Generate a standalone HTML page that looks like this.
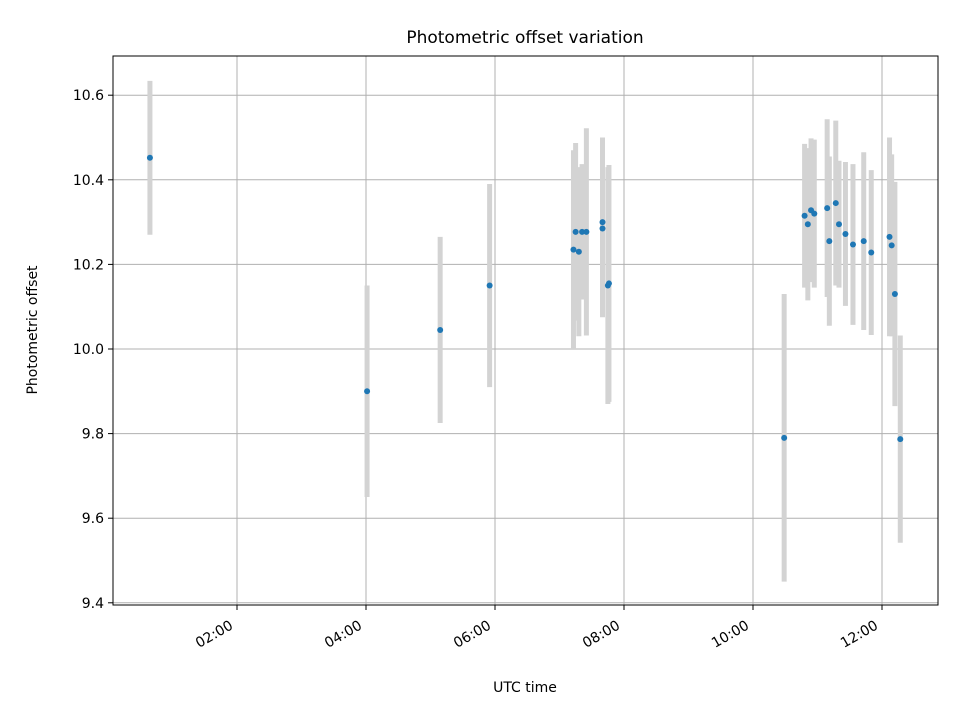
<!DOCTYPE html>
<html><head><meta charset="utf-8"><style>
body{margin:0;background:#fff}
svg text{font-family:"DejaVu Sans","Liberation Sans",sans-serif;fill:#000}
</style></head><body>
<svg id="chart" width="960" height="720" viewBox="0 0 960 720" xmlns="http://www.w3.org/2000/svg">
<rect width="960" height="720" fill="#fff"/>
<g id="grid"></g>
<g id="errs"></g>
<g id="pts"></g>
<rect x="113" y="56" width="825" height="549" fill="none" stroke="#000" stroke-width="1"/>
<g id="ticks"></g>
<text x="525" y="43" text-anchor="middle" font-size="17">Photometric offset variation</text>
<text x="525" y="692" text-anchor="middle" font-size="14">UTC time</text>
<text x="37" y="330" text-anchor="middle" font-size="14" transform="rotate(-90 37 330)">Photometric offset</text>
</svg>
<script>
const times=["00:39","04:01","05:09","05:55","07:13","07:15","07:18","07:21","07:25","07:40","07:40","07:45","07:46","10:29","10:48","10:51","10:54","10:57","11:09","11:11","11:17","11:20","11:26","11:33","11:43","11:50","12:07","12:09","12:12","12:17"];
const offsets=[10.452,9.90,10.045,10.15,10.235,10.277,10.23,10.277,10.277,10.30,10.285,10.15,10.155,9.79,10.315,10.295,10.328,10.32,10.333,10.255,10.345,10.295,10.272,10.247,10.255,10.228,10.265,10.245,10.13,9.787];
const errors=[0.182,0.25,0.22,0.24,0.235,0.21,0.20,0.16,0.245,0.20,0.21,0.28,0.28,0.34,0.17,0.18,0.17,0.175,0.21,0.20,0.195,0.15,0.17,0.19,0.21,0.195,0.235,0.215,0.265,0.245];
const yTicks=[9.4,9.6,9.8,10.0,10.2,10.4,10.6];
const xTicks=["02:00","04:00","06:00","08:00","10:00","12:00"];
const NS="http://www.w3.org/2000/svg";
function hrs(s){const p=s.split(":");return +p[0]+ +p[1]/60;}
function X(h){return 237+(h-2)*64.5;}
function Y(v){return 349-(v-10)*423;}
function mk(t,a,parent){const e=document.createElementNS(NS,t);for(const k in a)e.setAttribute(k,a[k]);parent.appendChild(e);return e;}
const grid=document.getElementById('grid'),ticks=document.getElementById('ticks'),errs=document.getElementById('errs'),pts=document.getElementById('pts');
yTicks.forEach(v=>{const y=Y(v);
 const g=mk('line',{x1:113,x2:938,y1:y,y2:y,stroke:'#b0b0b0','stroke-width':1},grid);
 
 
 const t=mk('line',{x1:108,x2:113,y1:y,y2:y,stroke:'#000'},ticks);
 
 
 const l=mk('text',{x:104,y:y+5,'text-anchor':'end','font-size':'14'},ticks);l.textContent=v.toFixed(1);
 
 
});
xTicks.forEach(s=>{const x=X(hrs(s));
 const g=mk('line',{x1:x,x2:x,y1:56,y2:605,stroke:'#b0b0b0','stroke-width':1},grid);
 
 
 const t=mk('line',{x1:x,x2:x,y1:605,y2:610,stroke:'#000'},ticks);
 
 
 const lx=x-3,ly=628;
 const l=mk('text',{x:lx,y:ly,'text-anchor':'end','font-size':'14',transform:`rotate(-30 ${lx} ${ly})`},ticks);l.textContent=s;
 
 
});
times.forEach((s,i)=>{const x=X(hrs(s));
 const e=mk('line',{x1:x,x2:x,y1:Y(offsets[i]+errors[i]),y2:Y(offsets[i]-errors[i]),stroke:'#d3d3d3','stroke-width':5},errs);
 
 
});
times.forEach((s,i)=>{
 const c=mk('circle',{cx:X(hrs(s)),cy:Y(offsets[i]),r:3,fill:'#1f77b4'},pts);
 
 
});
</script>
</body></html>
